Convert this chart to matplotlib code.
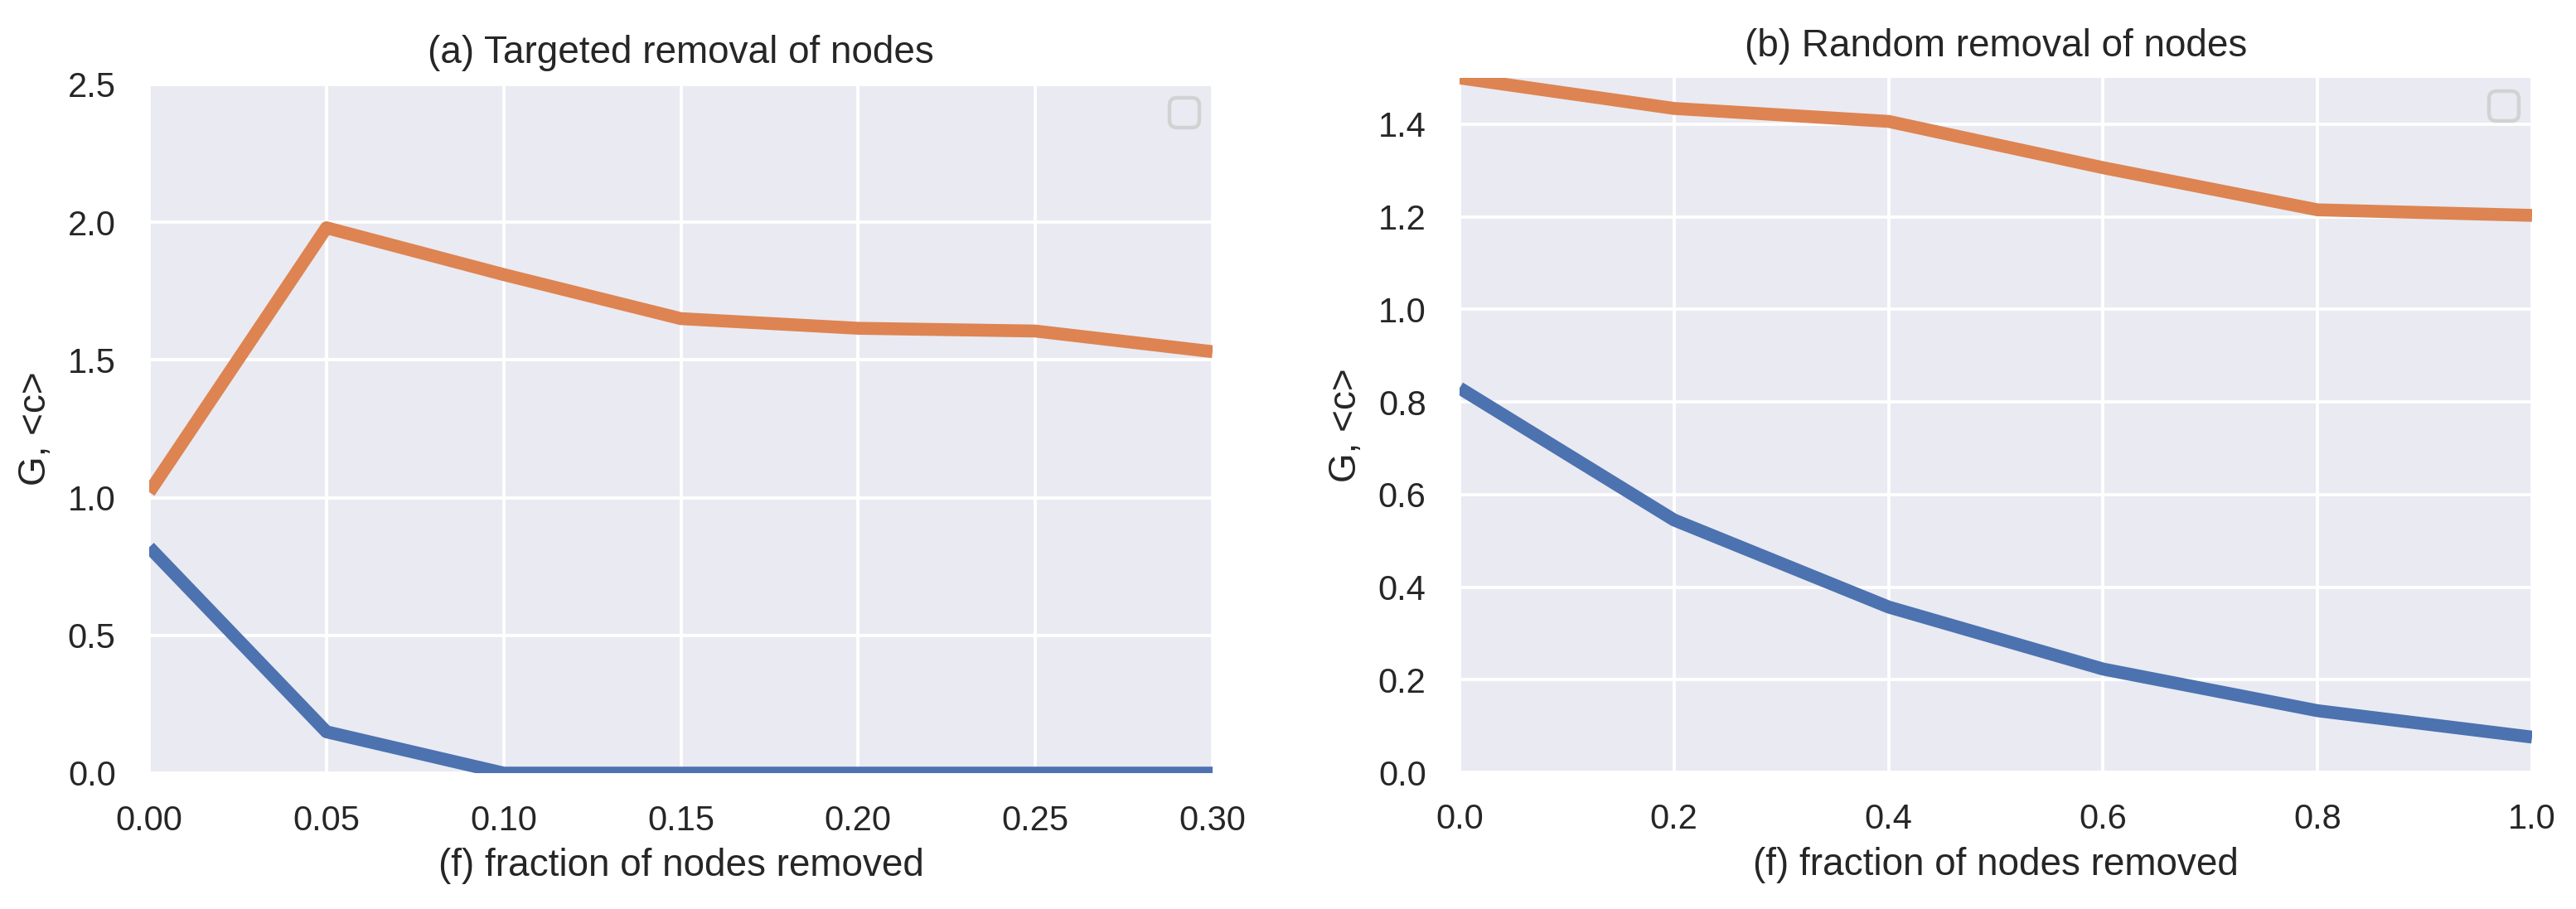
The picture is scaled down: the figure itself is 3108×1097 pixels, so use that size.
import matplotlib
matplotlib.use("Agg")
import matplotlib.pyplot as plt
import seaborn as sns

# ---- data ----
x_targeted = [0.00, 0.05, 0.10, 0.15, 0.20, 0.25, 0.30]
G_targeted = [0.82, 0.15, 0.0, 0.0, 0.0, 0.0, 0.0]
c_targeted = [1.02, 1.98, 1.81, 1.65, 1.615, 1.605, 1.53]

x_random = [0.0, 0.2, 0.4, 0.6, 0.8, 1.0]
G_random = [0.83, 0.545, 0.357, 0.223, 0.133, 0.076]
c_random = [1.50, 1.434, 1.406, 1.306, 1.215, 1.203]

xticks_a = [0.00, 0.05, 0.10, 0.15, 0.20, 0.25, 0.30]
yticks_a = [0.0, 0.5, 1.0, 1.5, 2.0, 2.5]
xticks_b = [0.0, 0.2, 0.4, 0.6, 0.8, 1.0]
yticks_b = [0.0, 0.2, 0.4, 0.6, 0.8, 1.0, 1.2, 1.4]

titles = ["(a) Targeted removal of nodes", "(b) Random removal of nodes"]
xlabel = "(f) fraction of nodes removed"
ylabel = "G, <c>"

sns.set_theme(style="darkgrid")
plt.rcParams['font.family'] = ['Liberation Sans', 'DejaVu Sans']

W, H = 3108, 1097
DPI = 200
fig = plt.figure(figsize=(W / DPI, H / DPI), dpi=DPI)

blue = "#4C72B0"
orange = "#DD8452"

def px_axes(x0, x1, ytop, ybot):
    return fig.add_axes([x0 / W, 1 - ybot / H, (x1 - x0) / W, (ybot - ytop) / H])

ax1 = px_axes(180, 1463, 102, 933)
ax2 = px_axes(1761, 3055, 94, 932)

panels = [
    (ax1, x_targeted, G_targeted, c_targeted, xticks_a, yticks_a, (0, 0.30), (0, 2.5), "{:.2f}", "{:.1f}"),
    (ax2, x_random, G_random, c_random, xticks_b, yticks_b, (0, 1.0), (0, 1.5), "{:.1f}", "{:.1f}"),
]

for i, (ax, xs, g, c, xt, yt, xl, yl, xf, yf) in enumerate(panels):
    ax.set_facecolor("#EAEAF2")
    ax.plot(xs, g, color=blue, lw=5.6, solid_capstyle='butt')
    ax.plot(xs, c, color=orange, lw=5.6, solid_capstyle='butt')
    ax.set_xlim(*xl)
    ax.set_ylim(*yl)
    ax.set_xticks(xt)
    ax.set_xticklabels([xf.format(v) for v in xt])
    ax.set_yticks(yt)
    ax.set_yticklabels([yf.format(v) for v in yt])
    ax.grid(True, color="white", lw=1.4)
    ax.tick_params(axis='both', length=0, labelsize=15, colors="#262626")
    ax.tick_params(axis='x', pad=13.5)
    ax.tick_params(axis='y', pad=14.5)
    for s in ax.spines.values():
        s.set_visible(False)
    ax.set_title(titles[i], fontsize=16.5, color="#262626", pad=9.5)
    ax.set_xlabel(xlabel, fontsize=16.5, color="#262626", labelpad=4.5)
    ax.set_ylabel(ylabel, fontsize=16.5, color="#262626", labelpad=6)
    leg = ax.legend(handles=[], loc="upper right", fontsize=16, frameon=True,
                    borderaxespad=0.36, facecolor="#EAEAF2", edgecolor="0.8",
                    framealpha=0.8)
    leg.get_frame().set_linewidth(1.6)

fig.savefig("out.png", dpi=DPI)
